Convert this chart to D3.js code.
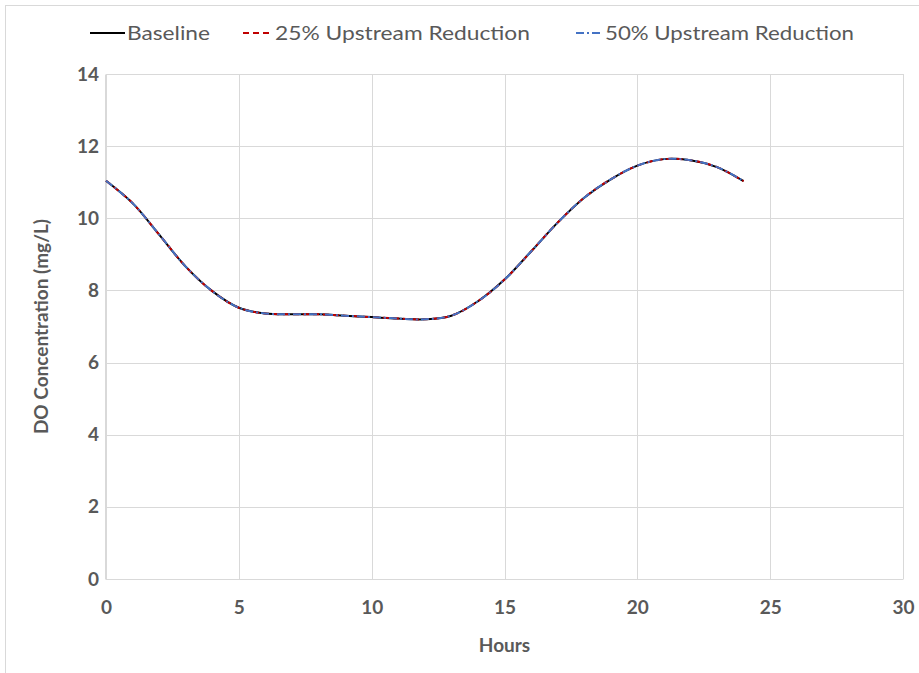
<!DOCTYPE html>
<html>
<head>
<meta charset="utf-8">
<script src="https://cdn.jsdelivr.net/npm/d3@7"></script>
<style>
  html, body { margin: 0; padding: 0; background: #fff; }
  svg { display: block; }
</style>
</head>
<body>
<svg id="chart" width="919" height="673"></svg>
<script>
// Hourly dissolved-oxygen readings (mg/L)
const hours = [0, 1, 2, 3, 4, 5, 6, 7, 8, 9, 10, 11, 12, 13, 14, 15, 16, 17, 18, 19, 20, 21, 22, 23, 24];
const baseline   = [11.04, 10.42, 9.55, 8.66, 7.98, 7.52, 7.36, 7.34, 7.34, 7.30, 7.26, 7.22, 7.20, 7.30, 7.70, 8.30, 9.08, 9.88, 10.57, 11.08, 11.46, 11.64, 11.61, 11.42, 11.03];
const reduce25   = [11.04, 10.42, 9.55, 8.66, 7.98, 7.52, 7.36, 7.34, 7.34, 7.30, 7.26, 7.22, 7.20, 7.30, 7.70, 8.30, 9.08, 9.88, 10.57, 11.08, 11.46, 11.64, 11.61, 11.42, 11.03];
const reduce50   = [11.04, 10.42, 9.55, 8.66, 7.98, 7.52, 7.36, 7.34, 7.34, 7.30, 7.26, 7.22, 7.20, 7.30, 7.70, 8.30, 9.08, 9.88, 10.57, 11.08, 11.46, 11.64, 11.61, 11.42, 11.03];
const seriesNames = ["Baseline", "25% Upstream Reduction", "50% Upstream Reduction"];
const xTicks = [0, 5, 10, 15, 20, 25, 30];
const yTicks = [0, 2, 4, 6, 8, 10, 12, 14];

const svg = d3.select("#chart");
const plot = { left: 106, top: 74, right: 903, bottom: 579 };

const x = d3.scaleLinear().domain([0, 30]).range([plot.left, plot.right]);
const y = d3.scaleLinear().domain([0, 14]).range([plot.bottom, plot.top]);

const labelFont = "Lato, 'Open Sans', sans-serif";
const textColor = "#595959";
const gridColor = "#d9d9d9";

// outer chart frame
svg.append("rect")
  .attr("x", 5.5).attr("y", 5.5)
  .attr("width", 1000).attr("height", 1000)
  .attr("fill", "none").attr("stroke", gridColor).attr("stroke-width", 1);

// gridlines
const grid = svg.append("g");
grid.selectAll("line.v").data(xTicks).join("line")
  .attr("x1", d => Math.round(x(d)) + 0.5).attr("x2", d => Math.round(x(d)) + 0.5)
  .attr("y1", plot.top).attr("y2", plot.bottom)
  .attr("stroke", gridColor).attr("stroke-width", 1);
grid.selectAll("line.h").data(yTicks).join("line")
  .attr("y1", d => Math.round(y(d)) + 0.5).attr("y2", d => Math.round(y(d)) + 0.5)
  .attr("x1", plot.left).attr("x2", plot.right)
  .attr("stroke", gridColor).attr("stroke-width", 1);

// axes (labels only; gridlines carry the structure)
const xAxis = d3.axisBottom(x).tickValues(xTicks).tickSize(0).tickPadding(22);
const gx = svg.append("g").attr("transform", `translate(0,${plot.bottom})`).call(xAxis);
gx.select(".domain").attr("stroke", gridColor);
gx.selectAll("text").attr("fill", textColor).style("font", `bold 19px ${labelFont}`);

const yAxis = d3.axisLeft(y).tickValues(yTicks).tickSize(0).tickPadding(6);
const gy = svg.append("g").attr("transform", `translate(${plot.left - 1},0)`).call(yAxis);
gy.select(".domain").attr("stroke", gridColor);
gy.selectAll("text").attr("fill", textColor).style("font", `bold 19px ${labelFont}`);

// axis titles
svg.append("text")
  .attr("x", (plot.left + plot.right) / 2).attr("y", 652)
  .attr("text-anchor", "middle").attr("fill", textColor)
  .style("font", `bold 19px ${labelFont}`).text("Hours");
svg.append("text")
  .attr("transform", `translate(48,${(plot.top + plot.bottom) / 2}) rotate(-90)`)
  .attr("text-anchor", "middle").attr("fill", textColor)
  .style("font", `bold 19px ${labelFont}`).text("DO Concentration (mg/L)");

// series
const styles = [
  { color: "#000000", dash: null, width: 2 },
  { color: "#C00000", dash: "6,4", width: 2 },
  { color: "#4472C4", dash: "8,3,2,3", width: 2 }
];
const data = [baseline, reduce25, reduce50];
const line = d3.line()
  .x((d, i) => x(hours[i]))
  .y(d => y(d))
  .curve(d3.curveCatmullRom.alpha(0.5));

data.forEach((vals, k) => {
  svg.append("path")
    .datum(vals)
    .attr("d", line)
    .attr("fill", "none")
    .attr("stroke", styles[k].color)
    .attr("stroke-width", styles[k].width)
    .attr("stroke-dasharray", styles[k].dash)
    .attr("stroke-linecap", "butt");
});

// legend
const legendItems = [
  { x1: 90, x2: 125, tx: 127 },
  { x1: 243, x2: 273, tx: 275 },
  { x1: 576, x2: 600, tx: 605 }
];
const legendY = 33;
const legendWidths = [83, 255, 249];
legendItems.forEach((it, k) => {
  svg.append("line")
    .attr("x1", it.x1).attr("x2", it.x2)
    .attr("y1", legendY).attr("y2", legendY)
    .attr("stroke", styles[k].color)
    .attr("stroke-width", 2)
    .attr("stroke-dasharray", k === 0 ? null : (k === 1 ? "6,4" : "8,3,2,3"));
  svg.append("text")
    .attr("x", it.tx).attr("y", legendY + 7)
    .attr("fill", textColor)
    .attr("textLength", legendWidths[k])
    .attr("lengthAdjust", "spacingAndGlyphs")
    .style("font", `20px ${labelFont}`)
    .text(seriesNames[k]);
});
</script>
</body>
</html>
